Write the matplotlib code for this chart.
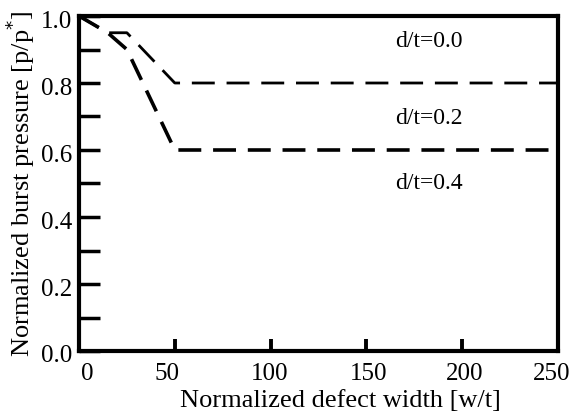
import matplotlib
matplotlib.use("Agg")
import matplotlib.pyplot as plt
from matplotlib.ticker import MultipleLocator
from matplotlib.transforms import ScaledTranslation

plt.rcParams['font.family'] = ['Liberation Serif', 'DejaVu Serif']
plt.rcParams['lines.scale_dashes'] = False

# Normalized burst pressure vs. normalized defect width
width_02 = [0, 15, 25, 50, 250]
press_02 = [1.0, 0.95, 0.95, 0.80, 0.80]
width_04 = [0, 15, 25, 50, 250]
press_04 = [1.0, 0.95, 0.90, 0.60, 0.60]

labels = ["d/t=0.0", "d/t=0.2", "d/t=0.4"]
label_x = [165, 165, 165]
label_y = [0.925, 0.695, 0.50]

x_ticks = [0, 50, 100, 150, 200, 250]
y_ticks = [0.0, 0.2, 0.4, 0.6, 0.8, 1.0]

fig = plt.figure(figsize=(5.74, 4.19), dpi=100)
ax = fig.add_axes([79/574, 1 - 351/419, (558 - 79)/574, (351 - 16)/419])

dash = (0, (16.5, 8.5))
ax.plot(width_02, press_02, color='black', lw=2.0, linestyle=dash)
ax.plot(width_04, press_04, color='black', lw=2.6, linestyle=dash)

for txt, x, y in zip(labels, label_x, label_y):
    ax.text(x, y, txt, fontsize=17, va='center', ha='left')

ax.set_xlim(0, 250)
ax.set_ylim(0, 1.0)
ax.set_xticks(x_ticks)
ax.set_yticks(y_ticks)
ax.set_xticklabels([str(v) for v in x_ticks])
ax.set_yticklabels([f"{v:.1f}" for v in y_ticks])
ax.yaxis.set_minor_locator(MultipleLocator(0.1))

for s in ax.spines.values():
    s.set_linewidth(3.0)

ax.tick_params(axis='y', which='both', direction='in', length=15, width=2.5,
               labelsize=18, pad=5)
ax.tick_params(axis='x', which='major', direction='in', length=9, width=2.8,
               labelsize=18, pad=9)

# nudge individual tick labels (pixel offsets)
x_shift = [8, -8, -1, 2, 2, -6]
for lab, dx in zip(ax.get_xticklabels(), x_shift):
    lab.set_transform(lab.get_transform() +
                      ScaledTranslation(dx / 100, 0, fig.dpi_scale_trans))
for lab in ax.get_yticklabels():
    lab.set_transform(lab.get_transform() +
                      ScaledTranslation(0, -3 / 100, fig.dpi_scale_trans))

ax.set_xlabel("Normalized defect width [w/t]", fontsize=19, labelpad=1)
ax.xaxis.set_label_coords((340 - 79) / 479, -0.115)
ax.set_ylabel("Normalized burst pressure [p/p$^{*}$]", fontsize=19, labelpad=3)

fig.savefig("out.png", dpi=100)
